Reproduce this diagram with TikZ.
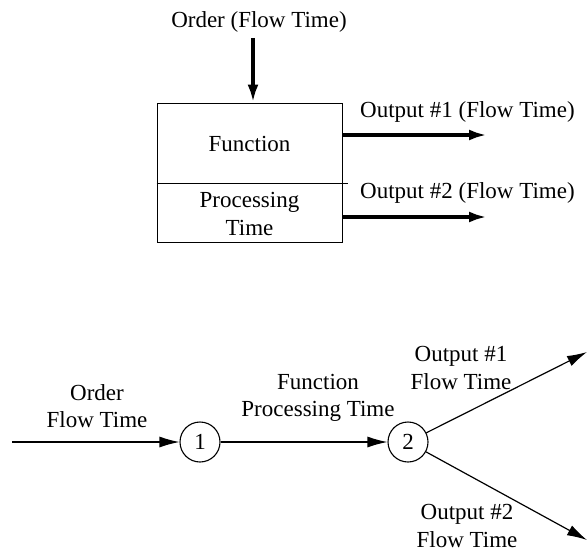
\documentclass[tikz,border=0pt]{standalone}
\usepackage{fontspec}
\setmainfont{Liberation Serif}
\usetikzlibrary{arrows.meta}
\begin{document}
\begin{tikzpicture}[x=1pt,y=-1pt,
  every node/.style={font=\fontsize{23}{27.5}\selectfont, inner sep=0pt},
  lbl/.style={align=center},
  fatflow/.style={line width=3.8pt, -{Latex[length=18pt,width=11pt]}},
  thinflow/.style={line width=1.2pt, -{Latex[length=20pt,width=11pt]}},
  proc/.style={draw, line width=1pt, minimum width=185pt, minimum height=139pt},
  event/.style={draw, circle, line width=1.1pt, minimum size=40pt}]
\useasboundingbox (0,0) rectangle (588,551);

% --- block form: function box with its order input and two outputs ---
\node[proc] (box) at (249.5,172.5) {};
\draw[line width=1pt] ([yshift=-10.5pt]box.west) -- ([yshift=-10.5pt,xshift=5pt]box.east);
\node (fn) at (249.5,144) {Function};
\node[lbl] (pt) at (249.5,214) {Processing\\Time};

\node (ordtxt) at (259,22) {Order (Flow Time)};
\coordinate (ordtop) at (253,38);
\draw[fatflow] (ordtop) -- (ordtop |- box.north);

\coordinate (o1tip) at (487,135);
\coordinate (o2tip) at (487,217);
\draw[fatflow] (box.east |- o1tip) -- (o1tip);
\draw[fatflow] (box.east |- o2tip) -- (o2tip);
\node[anchor=west] (o1txt) at (360,112) {Output \#1 (Flow Time)};
\node[anchor=west] (o2txt) at (360,193) {Output \#2 (Flow Time)};

% --- network form: two events joined by the function arc ---
\node[event] (e1) at (200,442) {1};
\node[event] (e2) at (408,442) {2};
\coordinate (src) at (12,442);
\coordinate (d1) at (587,352);
\coordinate (d2) at (587,540);

\draw[thinflow] (src) -- (e1);
\draw[thinflow] (e1) -- (e2);
\draw[thinflow] (e2) -- (d1);
\draw[thinflow] (e2) -- (d2);

\node[lbl] (ordlbl) at (97,406) {Order\\Flow Time};
\node[lbl] (fnlbl) at (318,398) {Function\\Processing Time};
\node[lbl] (out1lbl) at (461,368) {Output \#1\\Flow Time};
\node[lbl] (out2lbl) at (467,526) {Output \#2\\Flow Time};
\end{tikzpicture}
\end{document}
